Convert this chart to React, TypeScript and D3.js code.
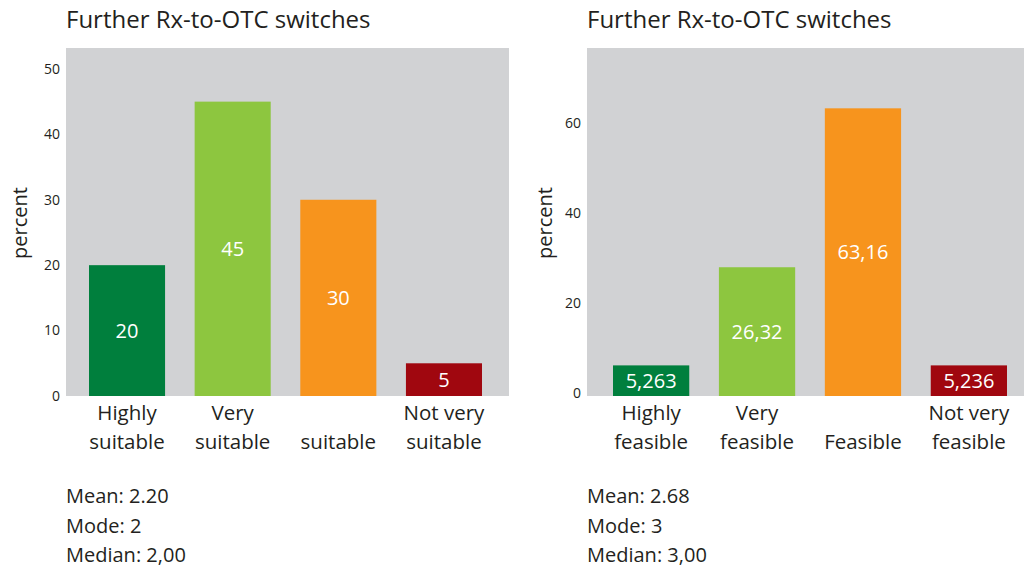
import React from 'react'
import { scaleBand, scaleLinear } from 'd3'

// left panel: suitability
const suitCategories = [['Highly', 'suitable'], ['Very', 'suitable'], ['', 'suitable'], ['Not very', 'suitable']]
const suitValues = [20, 45, 30, 5]
const suitLabels = ['20', '45', '30', '5']
const suitTicks = [0, 10, 20, 30, 40, 50]
const suitStats = ['Mean: 2.20', 'Mode: 2', 'Median: 2,00']

// right panel: feasibility (bar heights as drawn in the original)
const feasCategories = [['Highly', 'feasible'], ['Very', 'feasible'], ['', 'Feasible'], ['Not very', 'feasible']]
const feasValues = [6.8, 28.6, 63.9, 6.8]
const feasLabels = ['5,263', '26,32', '63,16', '5,236']
const feasTicks = [0, 20, 40, 60]
const feasStats = ['Mean: 2.68', 'Mode: 3', 'Median: 3,00']

const colors = ['#007f3d', '#8dc63f', '#f7941d', '#a0070f']
const FONT = "'Open Sans', 'Noto Sans', sans-serif"
const TEXT = '#231f20'

const W = 1024
const H = 568

type PanelProps = {
  x0: number
  x1: number
  bandStart: number
  bandEnd: number
  yMax: number
  categories: string[][]
  values: number[]
  labels: string[]
  ticks: number[]
  stats: string[]
  axisLabelX: number
  tickShift: number
}

const Panel = (p: PanelProps) => {
  const top = 48
  const bottom = 396
  const x = scaleBand<number>()
    .domain(p.values.map((_, i) => i))
    .range([p.bandStart, p.bandEnd])
    .paddingInner(0.28)
    .paddingOuter(0)
  const y = scaleLinear().domain([0, p.yMax]).range([bottom, top])

  return (
    <g fontFamily={FONT}>
      <text x={p.x0} y={28} fontSize={24} fill={TEXT}>Further Rx-to-OTC switches</text>
      <rect x={p.x0} y={top} width={p.x1 - p.x0} height={bottom - top} fill="#d1d2d4" />
      {p.ticks.map(t => (
        <text key={t} x={p.x0 - 6} y={y(t) + p.tickShift} dy="0.35em" textAnchor="end" fontSize={14} fill={TEXT}>{t}</text>
      ))}
      <text
        transform={`translate(${p.axisLabelX},${(top + bottom) / 2 + 1}) rotate(-90)`}
        textAnchor="middle" dy="0.35em" fontSize={20} fill={TEXT}
      >percent</text>
      {p.values.map((v, i) => (
        <g key={i}>
          <rect x={x(i)} y={y(v)} width={x.bandwidth()} height={bottom - y(v)} fill={colors[i]} />
          <text
            x={(x(i) ?? 0) + x.bandwidth() / 2} y={(y(v) + bottom) / 2} dy="0.35em"
            textAnchor="middle" fontSize={20} fill="#fff"
          >{p.labels[i]}</text>
          {p.categories[i].map((line, j) => (
            <text
              key={j} x={(x(i) ?? 0) + x.bandwidth() / 2} y={420 + j * 29}
              textAnchor="middle" fontSize={20.5} fill={TEXT}
            >{line}</text>
          ))}
        </g>
      ))}
      {p.stats.map((s, i) => (
        <text key={s} x={p.x0} y={503 + i * 29.5} fontSize={20} fill={TEXT}>{s}</text>
      ))}
    </g>
  )
}

export default function App() {
  return (
    <svg width={W} height={H} style={{ position: 'absolute', left: 0, top: 0 }}>
      <rect width={W} height={H} fill="#fff" />
      <Panel
        x0={66} x1={509} bandStart={89} bandEnd={482} yMax={53.2}
        categories={suitCategories} values={suitValues} labels={suitLabels}
        ticks={suitTicks} stats={suitStats} axisLabelX={20} tickShift={0}
      />
      <Panel
        x0={587} x1={1024} bandStart={613} bandEnd={1007} yMax={77.3}
        categories={feasCategories} values={feasValues} labels={feasLabels}
        ticks={feasTicks} stats={feasStats} axisLabelX={545} tickShift={-2.5}
      />
    </svg>
  )
}
